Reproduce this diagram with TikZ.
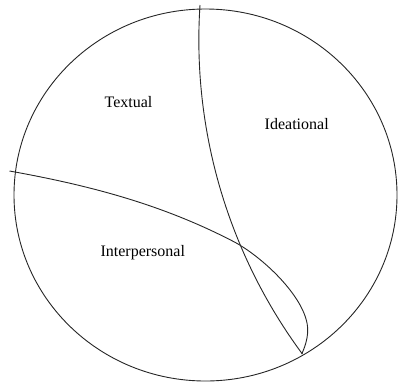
\documentclass[tikz,border=0pt]{standalone}
\usepackage{fontspec}
\setmainfont{Liberation Serif}
\begin{document}
\begin{tikzpicture}[x=1pt,y=-1pt,
  line/.style={draw=black!85,line width=0.9pt},
  lab/.style={font=\fontsize{16}{18}\selectfont,inner sep=0pt}]
\useasboundingbox (0,0) rectangle (398,383);
\draw[line] (205.5,195) ellipse [x radius=191.5, y radius=186];
% curve from top (circular arc)
\draw[line] (200,5) arc[start angle=183.8, end angle=143.5, radius=528];
% curve from left with loop
\draw[line] (9.5,171) .. controls (84.5,184.5) and (160,203) .. (235,242.3)
  .. controls (265,258.8) and (307.7,300) .. (307.7,330)
  .. controls (307.7,340) and (304,349) .. (301.7,354);
\node[lab] (textual) at (128.5,102) {Textual};
\node[lab] (ideational) at (296.7,124) {Ideational};
\node[lab] (interpersonal) at (142.8,253) {Interpersonal};
\end{tikzpicture}
\end{document}
